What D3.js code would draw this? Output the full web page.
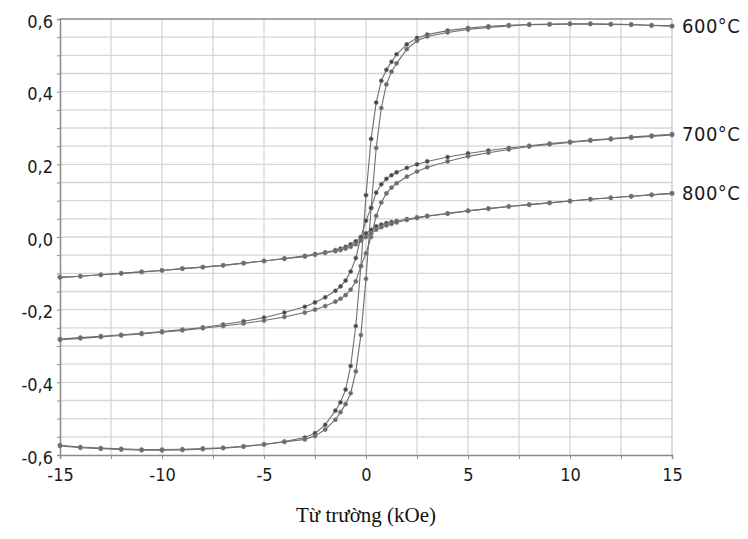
<!DOCTYPE html>
<html>
<head>
<meta charset="utf-8">
<script src="https://cdn.jsdelivr.net/npm/d3@7"></script>
<style>
  body { margin: 0; background: #fff; }
  svg { display: block; }
</style>
</head>
<body>
<div id="chart"></div>
<script>
// field values (kOe), shared by every branch
const field = [-15,-14,-13,-12,-11,-10,-9,-8,-7,-6,-5,-4,-3,-2.5,-2,-1.5,-1.25,-1,-0.75,-0.5,-0.25,
               0,0.25,0.5,0.75,1,1.25,1.5,2,2.5,3,4,5,6,7,8,9,10,11,12,13,14,15];

// 600°C : upper branch (field going down) and lower branch (field going up)
const up600 = [-0.575,-0.580,-0.583,-0.585,-0.587,-0.587,-0.586,-0.584,-0.581,-0.577,-0.571,-0.563,-0.552,-0.540,-0.517,-0.478,-0.455,-0.420,-0.355,-0.245,-0.080,
               0.115,0.270,0.370,0.430,0.460,0.482,0.503,0.530,0.548,0.557,0.568,0.575,0.580,0.583,0.585,0.586,0.587,0.587,0.586,0.585,0.583,0.581];
const lo600 = [-0.573,-0.578,-0.581,-0.583,-0.585,-0.585,-0.584,-0.582,-0.580,-0.576,-0.571,-0.564,-0.557,-0.548,-0.530,-0.503,-0.482,-0.460,-0.430,-0.370,-0.270,
               -0.115,0.080,0.245,0.355,0.420,0.455,0.478,0.517,0.540,0.552,0.563,0.571,0.577,0.581,0.584,0.585,0.586,0.586,0.585,0.584,0.582,0.580];

// 700°C
const up700 = [-0.281,-0.277,-0.273,-0.269,-0.265,-0.260,-0.255,-0.249,-0.241,-0.232,-0.222,-0.208,-0.192,-0.180,-0.166,-0.148,-0.136,-0.120,-0.095,-0.058,0.000,
               0.045,0.080,0.122,0.145,0.160,0.170,0.178,0.190,0.200,0.208,0.220,0.230,0.238,0.245,0.251,0.257,0.262,0.267,0.271,0.275,0.279,0.283];
const lo700 = [-0.283,-0.279,-0.275,-0.271,-0.267,-0.262,-0.257,-0.251,-0.245,-0.238,-0.230,-0.220,-0.208,-0.200,-0.190,-0.178,-0.170,-0.160,-0.145,-0.122,-0.080,
               -0.045,0.000,0.058,0.095,0.120,0.136,0.148,0.166,0.180,0.192,0.208,0.222,0.232,0.241,0.249,0.255,0.260,0.265,0.269,0.273,0.277,0.281];

// 800°C
const up800 = [-0.111,-0.108,-0.104,-0.100,-0.096,-0.092,-0.087,-0.083,-0.078,-0.072,-0.066,-0.059,-0.052,-0.047,-0.042,-0.036,-0.032,-0.027,-0.020,-0.012,-0.001,
               0.010,0.020,0.029,0.034,0.038,0.041,0.044,0.049,0.054,0.058,0.065,0.072,0.078,0.084,0.089,0.094,0.099,0.104,0.108,0.112,0.116,0.120];
const lo800 = [-0.111,-0.108,-0.104,-0.100,-0.096,-0.092,-0.087,-0.083,-0.078,-0.072,-0.066,-0.060,-0.054,-0.049,-0.044,-0.039,-0.036,-0.032,-0.027,-0.020,-0.010,
               0.000,0.010,0.020,0.027,0.032,0.036,0.040,0.047,0.052,0.057,0.064,0.072,0.078,0.084,0.089,0.094,0.099,0.104,0.108,0.112,0.116,0.120];

const seriesNames = ["600°C", "700°C", "800°C"];
const branches = [up600, lo600, up700, lo700, up800, lo800];

const xTicks = [-15, -10, -5, 0, 5, 10, 15];
const yTicks = [-0.6, -0.4, -0.2, 0.0, 0.2, 0.4, 0.6];
const xTitle = "Từ trường (kOe)";

const width = 748, height = 539;
const x = d3.scaleLinear().domain([-15, 15]).range([60, 672]);
const y = d3.scaleLinear().domain([-0.6, 0.6]).range([455, 19]);

const svg = d3.select("#chart").append("svg")
    .attr("width", width)
    .attr("height", height);

const tickFont = "'Liberation Sans Narrow', 'DejaVu Sans Condensed', 'Liberation Sans', sans-serif";

// grid
const grid = svg.append("g").attr("stroke", "#d6d6d6").attr("stroke-width", 1.3);
grid.selectAll("line.v")
    .data(d3.range(-12.5, 15, 2.5))
    .join("line")
    .attr("x1", d => x(d)).attr("x2", d => x(d))
    .attr("y1", y(0.6)).attr("y2", y(-0.6));
grid.selectAll("line.h")
    .data(d3.range(-11, 12).map(i => i * 0.05))
    .join("line")
    .attr("x1", x(-15)).attr("x2", x(15))
    .attr("y1", d => y(d)).attr("y2", d => y(d));

// frame
svg.append("line").attr("x1", x(15)).attr("x2", x(15)).attr("y1", y(0.6)).attr("y2", y(-0.6))
    .attr("stroke", "#c8c8c8").attr("stroke-width", 1.3);
svg.append("line").attr("x1", x(-15)).attr("x2", x(15)).attr("y1", y(0.6)).attr("y2", y(0.6))
    .attr("stroke", "#8a8a8a").attr("stroke-width", 1.5);

// axes
const xAxis = d3.axisBottom(x)
    .tickValues(d3.range(-15, 15.1, 2.5))
    .tickSize(4)
    .tickFormat(d => xTicks.includes(d) ? String(d) : "");
const gx = svg.append("g").attr("transform", `translate(0,${y(-0.6)})`).call(xAxis);

const yAxis = d3.axisLeft(y)
    .tickValues(d3.range(-12, 13).map(i => i * 0.05))
    .tickSize(3)
    .tickFormat(d => {
      const r = Math.round(d * 10) / 10;
      return Math.abs(d - r) < 1e-6 && yTicks.includes(r) ? r.toFixed(1).replace(".", ",") : "";
    });
const gy = svg.append("g").attr("transform", `translate(${x(-15)},0)`).call(yAxis);

[gx, gy].forEach(g => {
  g.select(".domain").attr("stroke", "#8a8a8a").attr("stroke-width", 1.5);
  g.selectAll(".tick line").attr("stroke", "#8a8a8a");
  g.selectAll("text")
    .attr("fill", "#1a1a1a")
    .style("font-family", tickFont)
    .style("font-size", "18px");
});
gx.selectAll("text").attr("dy", "1.05em").attr("y", 7);
gy.selectAll("text").attr("x", -7).attr("dy", "0.45em");

// curves
const line = d3.line()
    .x((d, i) => x(field[i]))
    .y(d => y(d));

const curves = svg.append("g");
branches.forEach((vals, k) => {
  curves.append("path")
      .datum(vals)
      .attr("fill", "none")
      .attr("stroke", "#6e6e6e")
      .attr("stroke-width", 1.1)
      .attr("d", line);
  curves.append("g").selectAll("circle")
      .data(vals)
      .join("circle")
      .attr("cx", (d, i) => x(field[i]))
      .attr("cy", d => y(d))
      .attr("r", 2.1)
      .attr("fill", k % 2 ? "#6a6a6a" : "#444")
      .attr("stroke", "#888")
      .attr("stroke-width", 0.6);
});

// series labels at the right end
const labelY = [0.581, 0.283, 0.120];
svg.append("g").selectAll("text")
    .data(seriesNames)
    .join("text")
    .attr("x", x(15) + 10)
    .attr("y", (d, i) => y(labelY[i]) + 7)
    .attr("fill", "#1a1a1a")
    .style("font-family", tickFont)
    .style("font-size", "20px")
    .style("letter-spacing", "0.5px")
    .text(d => d);

// axis title
svg.append("text")
    .attr("x", 366)
    .attr("y", 522)
    .attr("text-anchor", "middle")
    .attr("fill", "#111")
    .style("font-family", "'Liberation Serif', 'Times New Roman', serif")
    .style("font-size", "21px")
    .text(xTitle);
</script>
</body>
</html>
